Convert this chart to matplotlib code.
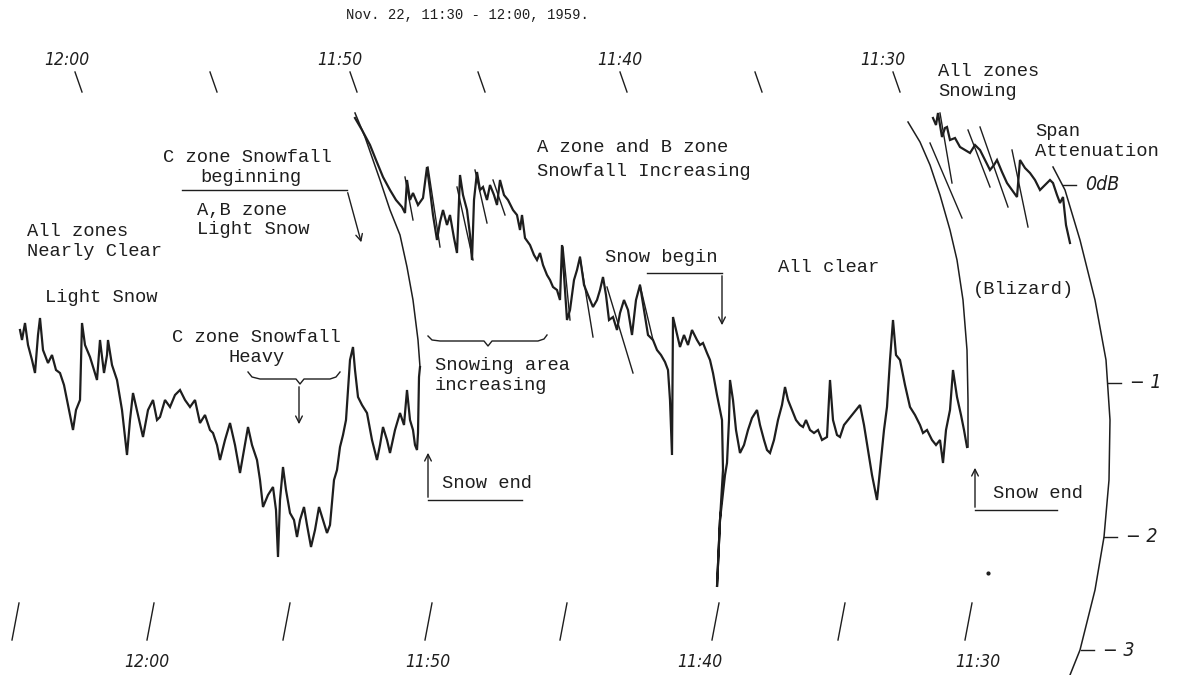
import numpy as np
import matplotlib.pyplot as plt

# Chart recorder sheet, Nov. 22 1959. Values are read off the scan in
# chart units (x along the strip, y = pen position, downwards).

# --- trace, left piece (12:00 -> 11:50)
trace_left = [
    (20, 330), (22, 340), (25, 323), (28, 345), (32, 360), (35, 373), (38, 335),
    (40, 318), (43, 350), (48, 363), (52, 355), (56, 370), (60, 373), (64, 385),
    (67, 400), (70, 415), (73, 430), (76, 410), (80, 400), (82, 323), (85, 345),
    (90, 357), (94, 370), (97, 380), (100, 340), (104, 373), (107, 355), (108, 340),
    (112, 365), (117, 380), (122, 410), (127, 455), (130, 420), (133, 393), (138, 415),
    (143, 437), (148, 410), (153, 400), (157, 420), (160, 417), (165, 400), (170, 407),
    (175, 395), (180, 390), (185, 400), (190, 407), (195, 400), (200, 423), (205, 415),
    (210, 430), (213, 433), (217, 445), (220, 460), (225, 440), (230, 423), (235, 445),
    (240, 473), (244, 450), (248, 427), (252, 445), (257, 460), (260, 480), (263, 507),
    (268, 495), (273, 487), (276, 510), (278, 557), (280, 500), (283, 467), (286, 490),
    (290, 513), (294, 520), (297, 537), (300, 520), (304, 507), (307, 525), (311, 547),
    (315, 530), (319, 507), (323, 520), (327, 533), (330, 525), (334, 480), (337, 470),
    (340, 447), (343, 435), (346, 420), (348, 390), (350, 360), (353, 347), (355, 370),
    (358, 397), (362, 405), (367, 413), (372, 440), (377, 460), (380, 445), (383, 427),
    (387, 440), (390, 453), (395, 430), (400, 413), (404, 425), (407, 390), (410, 420),
    (413, 430), (415, 445), (417, 450), (418, 433), (419, 377), (420, 367),
]

# --- pen swing arcs
arc_left = [(420, 367), (418, 340), (413, 300), (407, 267), (400, 235), (390, 210),
            (380, 180), (373, 160), (365, 137), (355, 113)]
arc_right = [(968, 447), (968, 400), (967, 350), (963, 300), (957, 260), (950, 230),
             (940, 195), (930, 165), (920, 142), (908, 122)]

# --- trace, middle piece (11:50 -> 11:30)
trace_mid = [
    (355, 118), (362, 130), (370, 145), (376, 160), (383, 177), (390, 190), (396, 200),
    (402, 207), (405, 213), (407, 180), (410, 200), (413, 193), (418, 205), (423, 198),
    (427, 167), (430, 190), (433, 215), (437, 240), (440, 222), (443, 210), (447, 225),
    (450, 215), (454, 238), (457, 253), (460, 175), (463, 195), (467, 210), (470, 235),
    (472, 260), (474, 200), (477, 172), (480, 190), (483, 187), (487, 200), (490, 185),
    (494, 195), (497, 205), (500, 180), (504, 195), (508, 200), (513, 210), (517, 215),
    (520, 230), (522, 215), (525, 238), (530, 245), (534, 255), (537, 260), (540, 253),
    (543, 265), (547, 275), (550, 280), (553, 287), (557, 290), (560, 300), (562, 245),
    (565, 290), (567, 320), (570, 310), (574, 280), (577, 270), (580, 257), (584, 285),
    (588, 295), (593, 307), (597, 300), (600, 290), (603, 277), (606, 295), (609, 320),
    (613, 317), (617, 330), (620, 313), (624, 300), (628, 310), (632, 335), (636, 300),
    (640, 285), (644, 310), (648, 335), (653, 340), (657, 350), (661, 355), (665, 362),
    (668, 370), (670, 400), (672, 455), (673, 317), (676, 330), (680, 347), (684, 335),
    (688, 345), (692, 330), (697, 340), (700, 345), (703, 343), (707, 353), (710, 360),
    (713, 373), (717, 395), (720, 410), (722, 420), (723, 470), (720, 520), (717, 587),
    (720, 520), (725, 475), (727, 463), (729, 420), (730, 380), (733, 400), (736, 430),
    (740, 453), (744, 445), (748, 430), (752, 418), (757, 410), (760, 425), (764, 440),
    (767, 450), (770, 453), (774, 440), (778, 420), (782, 405), (785, 387), (788, 400),
    (792, 410), (796, 420), (800, 425), (803, 427), (806, 420), (810, 430), (814, 433),
    (818, 430), (822, 440), (827, 437), (830, 380), (833, 420), (837, 435), (840, 437),
    (844, 425), (848, 420), (852, 415), (856, 410), (860, 405), (864, 425), (868, 450),
    (872, 475), (877, 500), (880, 470), (884, 430), (887, 407), (890, 360), (893, 320),
    (896, 355), (900, 360), (905, 385), (910, 407), (915, 415), (920, 425), (923, 433),
    (927, 430), (932, 440), (936, 445), (940, 440), (943, 463), (946, 430), (950, 410),
    (953, 370), (957, 397), (961, 415), (964, 430), (967, 447),
]

# --- trace, right piece (11:30, all zones snowing)
trace_right = [
    (933, 118), (936, 125), (938, 113), (942, 137), (945, 128), (947, 127), (950, 140),
    (955, 138), (960, 147), (965, 150), (970, 153), (975, 145), (980, 150), (985, 160),
    (990, 170), (994, 165), (997, 160), (1002, 172), (1007, 183), (1012, 190),
    (1017, 197), (1020, 160), (1025, 168), (1030, 173), (1035, 180), (1040, 190),
    (1045, 185), (1050, 180), (1053, 183), (1057, 195), (1060, 203), (1063, 197),
    (1066, 225), (1070, 243),
]

# fast pen strokes (start, end)
strokes = [
    (930, 143, 962, 218), (940, 113, 952, 183), (968, 130, 990, 187),
    (980, 127, 1008, 207), (1012, 150, 1028, 227), (428, 167, 440, 247),
    (457, 187, 473, 260), (475, 170, 487, 223), (405, 177, 413, 220),
    (580, 257, 593, 337), (607, 287, 633, 373), (640, 285, 653, 340),
    (563, 247, 570, 320), (493, 180, 505, 215),
]

# span attenuation scale (right)
scale_arc = [(1053, 167), (1065, 190), (1080, 240), (1095, 300), (1106, 360),
             (1110, 420), (1109, 480), (1104, 537), (1095, 590), (1080, 650), (1070, 675)]
scale_labels = ["0dB", "\u2212 1", "\u2212 2", "\u2212 3"]
scale_y = [185, 383, 537, 650]
scale_x = [1063, 1108, 1104, 1081]

# time marks
time_labels = ["12:00", "11:50", "11:40", "11:30"]
top_tick_x = [75, 210, 350, 478, 620, 755, 893]
top_label_x = [67, 340, 620, 883]
bottom_tick_x = [12, 147, 283, 425, 560, 712, 838, 965]
bottom_label_x = [147, 428, 700, 978]

INK = "#1e1e1e"
TYPE = dict(family="Liberation Mono", fontsize=13.5, color=INK, va="center", ha="left")
HAND = dict(family="DejaVu Sans", fontstyle="italic", fontsize=12.5, color=INK,
            va="center", ha="center", stretch="condensed")

fig = plt.figure(figsize=(11.78, 6.75), dpi=100)
ax = fig.add_axes([0, 0, 1, 1])
ax.set_xlim(0, 1178)
ax.set_ylim(675, 0)
ax.axis("off")

for seg in (trace_left, trace_mid, trace_right):
    xs, ys = np.array(seg).T
    ax.plot(xs, ys, color=INK, lw=1.6, solid_joinstyle="miter")
for seg in (arc_left, arc_right, scale_arc):
    xs, ys = np.array(seg).T
    ax.plot(xs, ys, color=INK, lw=1.1)
for x0, y0, x1, y1 in strokes:
    ax.plot([x0, x1], [y0, y1], color=INK, lw=1.0)

# time ticks
for x in top_tick_x:
    ax.plot([x, x + 7], [72, 92], color=INK, lw=1.0)
for x in bottom_tick_x:
    ax.plot([x, x + 7], [640, 603], color=INK, lw=1.0)
for x, lab in zip(top_label_x, time_labels):
    ax.text(x, 60, lab, **HAND)
for x, lab in zip(bottom_label_x, time_labels):
    ax.text(x, 662, lab, **HAND)

# dB scale ticks
for x, y, lab in zip(scale_x, scale_y, scale_labels):
    ax.plot([x, x + 13], [y, y], color=INK, lw=1.0)
    ax.text(x + 22, y, lab, **{**HAND, "ha": "left", "fontsize": 14})

ax.text(467, 15, "Nov. 22, 11:30 - 12:00, 1959.", family="Liberation Mono",
        fontsize=10, color=INK, ha="center", va="center")

# annotations
notes = [
    (27, 232, "All zones"), (27, 252, "Nearly Clear"), (45, 298, "Light Snow"),
    (163, 157, "C zone Snowfall"), (200, 177, "beginning"),
    (197, 210, "A,B zone"), (197, 230, "Light Snow"),
    (172, 338, "C zone Snowfall"), (229, 358, "Heavy"),
    (435, 365, "Snowing area"), (435, 385, "increasing"),
    (442, 483, "Snow end"), (537, 148, "A zone and B zone"),
    (537, 172, "Snowfall Increasing"), (605, 257, "Snow begin"),
    (778, 267, "All clear"), (973, 290, "(Blizard)"),
    (938, 72, "All zones"), (938, 92, "Snowing"),
    (1035, 132, "Span"), (1035, 152, "Attenuation"),
    (993, 493, "Snow end"),
]
for x, y, s in notes:
    ax.text(x, y, s, **TYPE)

arrow = dict(arrowstyle="->", color=INK, lw=1.0, mutation_scale=12)
# C zone beginning pointer
ax.plot([182, 347], [190, 190], color=INK, lw=1.0)
ax.annotate("", xy=(362, 245), xytext=(347, 190), arrowprops=arrow)
# heavy snow brace + arrow
brace_heavy = [(248, 372), (252, 377), (260, 379), (296, 379), (300, 384), (304, 379),
               (330, 379), (336, 377), (340, 372)]
xs, ys = np.array(brace_heavy).T
ax.plot(xs, ys, color=INK, lw=1.0)
ax.annotate("", xy=(299, 427), xytext=(299, 384), arrowprops=arrow)
# snowing area brace
brace_area = [(428, 336), (432, 340), (440, 341), (484, 341), (488, 346), (492, 341),
              (538, 341), (544, 339), (547, 335)]
xs, ys = np.array(brace_area).T
ax.plot(xs, ys, color=INK, lw=1.0)
# snow end (left)
ax.plot([428, 522], [500, 500], color=INK, lw=1.0)
ax.annotate("", xy=(428, 450), xytext=(428, 500), arrowprops=arrow)
# snow begin
ax.plot([647, 722], [273, 273], color=INK, lw=1.0)
ax.annotate("", xy=(722, 328), xytext=(722, 273), arrowprops=arrow)
# snow end (right)
ax.plot([975, 1057], [510, 510], color=INK, lw=1.0)
ax.annotate("", xy=(975, 465), xytext=(975, 510), arrowprops=arrow)

ax.plot([988], [573], marker="o", ms=2, color=INK)

fig.savefig("out.png", dpi=100, facecolor="white")
